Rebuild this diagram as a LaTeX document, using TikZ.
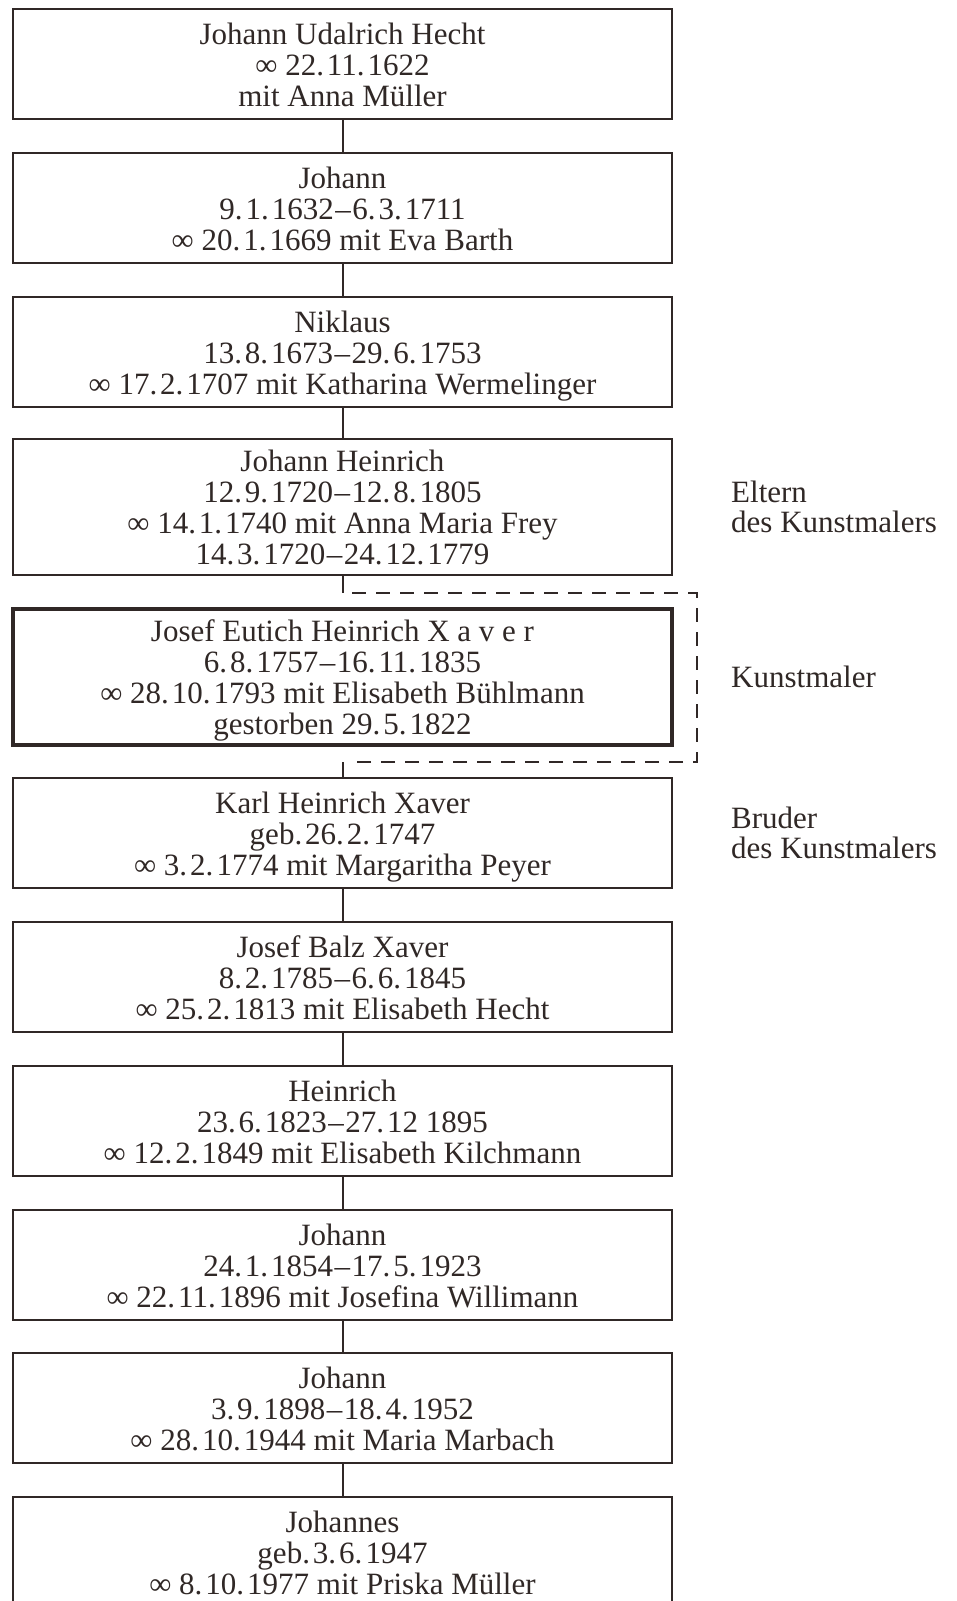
\documentclass[tikz,border=0pt]{standalone}
\usepackage{fontspec}
\setmainfont{Liberation Serif}
\definecolor{ink}{RGB}{48,40,38}
\newcommand{\dd}{\kern1.5pt--\kern1.5pt}
\newcommand{\dsp}{\kern3pt}
\newcommand{\oo}{∞ }
\newcommand{\fst}{\vphantom{J}}
\newcommand{\lst}{\vphantom{g}}
\newcommand{\person}[4]{%
  \node[gen,#3] (#1) at (342.5,#2) {};
  \node[txt] (#1t) at ([yshift=-4pt]#1.center) {\fst #4\lst};}
\begin{document}
\begin{tikzpicture}[x=1pt,y=-1pt,
  gen/.style={draw=ink, line width=2pt, minimum width=659pt, minimum height=110pt, inner sep=0pt},
  txt/.style={text=ink, inner sep=0pt, align=center, font=\fontsize{31}{31}\selectfont},
  tall/.style={minimum height=136pt},
  painter/.style={line width=4pt},
  plain/.style={},
  link/.style={draw=ink, line width=2pt},
  frame/.style={draw=ink, line width=2pt, dash pattern=on 14pt off 10pt},
  side/.style={text=ink, align=left, anchor=west, inner sep=0pt, font=\fontsize{31}{30}\selectfont}]
\clip (0,0) rectangle (956,1601);
\useasboundingbox (0,0) rectangle (956,1601);
\person{b1}{64}{plain}{Johann Udalrich Hecht\\ \oo 22.\dsp 11.\dsp 1622\\ mit Anna Müller}
\person{b2}{208}{plain}{Johann\\ 9.\dsp 1.\dsp 1632\dd 6.\dsp 3.\dsp 1711\\ \oo 20.\dsp 1.\dsp 1669 mit Eva Barth}
\person{b3}{352}{plain}{Niklaus\\ 13.\dsp 8.\dsp 1673\dd 29.\dsp 6.\dsp 1753\\ \oo 17.\dsp 2.\dsp 1707 mit Katharina Wermelinger}
\person{b4}{507}{tall}{Johann Heinrich\\ 12.\dsp 9.\dsp 1720\dd 12.\dsp 8.\dsp 1805\\ \oo 14.\dsp 1.\dsp 1740 mit Anna Maria Frey\\ 14.\dsp 3.\dsp 1720\dd 24.\dsp 12.\dsp 1779}
\person{b5}{676.5}{tall,painter}{Josef Eutich Heinrich X a v e r\\ 6.\dsp 8.\dsp 1757\dd 16.\dsp 11.\dsp 1835\\ \oo 28.\dsp 10.\dsp 1793 mit Elisabeth Bühlmann\\ gestorben 29.\dsp 5.\dsp 1822}
\person{b6}{833}{plain}{Karl Heinrich Xaver\\ geb.\dsp 26.\dsp 2.\dsp 1747\\ \oo 3.\dsp 2.\dsp 1774 mit Margaritha Peyer}
\person{b7}{977}{plain}{Josef Balz Xaver\\ 8.\dsp 2.\dsp 1785\dd 6.\dsp 6.\dsp 1845\\ \oo 25.\dsp 2.\dsp 1813 mit Elisabeth Hecht}
\person{b8}{1121}{plain}{Heinrich\\ 23.\dsp 6.\dsp 1823\dd 27.\dsp 12 1895\\ \oo 12.\dsp 2.\dsp 1849 mit Elisabeth Kilchmann}
\person{b9}{1265}{plain}{Johann\\ 24.\dsp 1.\dsp 1854\dd 17.\dsp 5.\dsp 1923\\ \oo 22.\dsp 11.\dsp 1896 mit Josefina Willimann}
\person{b10}{1408}{plain}{Johann\\ 3.\dsp 9.\dsp 1898\dd 18.\dsp 4.\dsp 1952\\ \oo 28.\dsp 10.\dsp 1944 mit Maria Marbach}
\person{b11}{1552}{plain}{Johannes\\ geb.\dsp 3.\dsp 6.\dsp 1947\\ \oo 8.\dsp 10.\dsp 1977 mit Priska Müller}
\node[side] (l1) at (731,507) {Eltern\\ des Kunstmalers};
\node[side] (l2) at (731,676.5) {Kunstmaler};
\node[side] (l3) at (731,833) {Bruder\\ des Kunstmalers};
\coordinate (t1) at (342.5,593);
\coordinate (t2) at (342.5,762);
\coordinate (dtl) at (352,593);
\coordinate (dtr) at (697,593);
\coordinate (dbr) at (697,762);
\coordinate (dbl) at (352,762);
\draw[link] (b1.south) -- (b2.north);
\draw[link] (b2.south) -- (b3.north);
\draw[link] (b3.south) -- (b4.north);
\draw[link] (b4.south) -- (t1);
\draw[link] (t2) -- (b6.north);
\draw[link] (b6.south) -- (b7.north);
\draw[link] (b7.south) -- (b8.north);
\draw[link] (b8.south) -- (b9.north);
\draw[link] (b9.south) -- (b10.north);
\draw[link] (b10.south) -- (b11.north);
\draw[frame] (dtl) -- (dtr) -- (dbr) -- (dbl);
\end{tikzpicture}
\end{document}
